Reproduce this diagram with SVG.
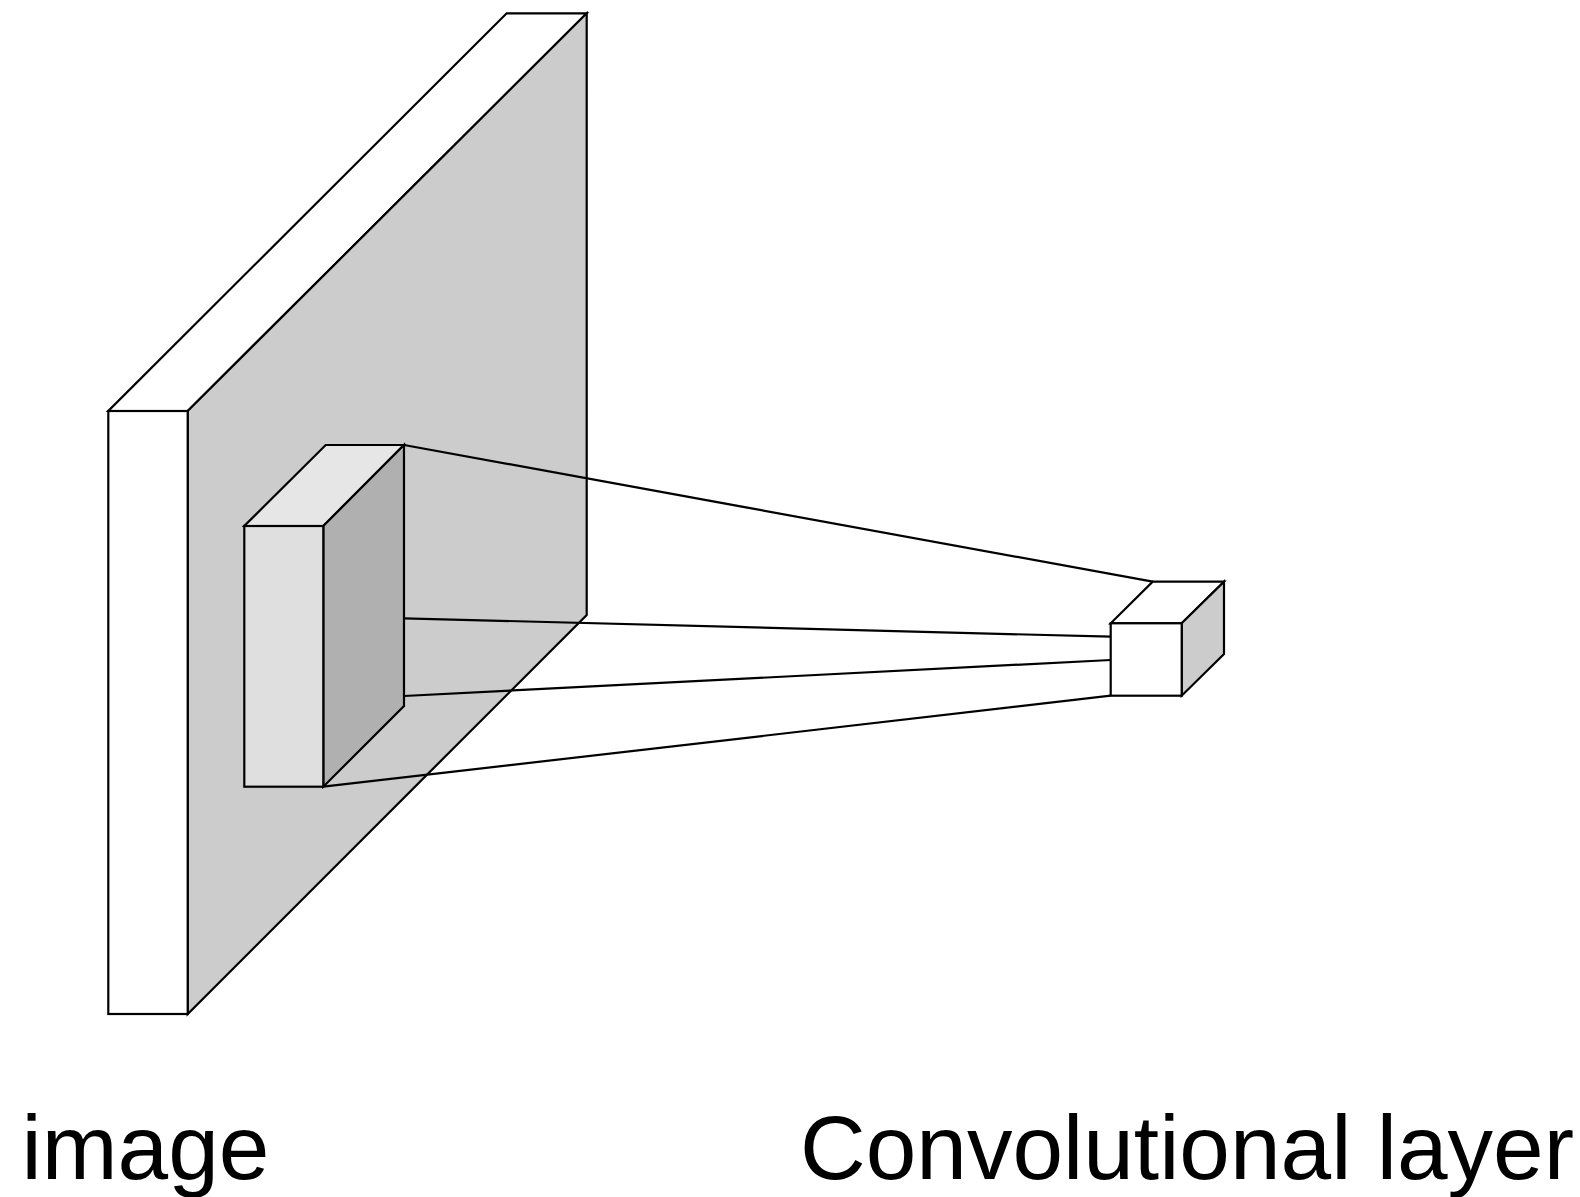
<svg xmlns="http://www.w3.org/2000/svg" width="1580" height="1197" viewBox="0 0 1580 1197">
<style>
.e{stroke:#000;stroke-width:2.2;stroke-linejoin:miter}
.c{stroke:#000;stroke-width:2.2;fill:none}
.t{font-family:"Liberation Sans",Arial,sans-serif;font-size:91px;fill:#000}
</style>
<rect width="1580" height="1197" fill="#fff"/>
<g id="image-slab">
<polygon class="e" fill="#ffffff" points="108.3,411 187.7,411 586.7,13.3 506.7,13.3"/>
<polygon class="e" fill="#cccccc" points="187.7,411 586.7,13.3 586.7,615 187.7,1014"/>
<rect class="e" fill="#ffffff" x="108.3" y="411" width="79.4" height="603"/>
</g>
<g id="kernel">
<polygon class="e" fill="#e6e6e6" points="244.3,526 323.3,526 404,445 325.7,445"/>
<polygon class="e" fill="#b0b0b0" points="323.3,526 404,445 404,706 323.3,786.7"/>
<rect class="e" fill="#dfdfdf" x="244.3" y="526" width="79" height="260.7"/>
</g>
<g id="connectors">
<line class="c" x1="404" y1="445" x2="1152.7" y2="581.7"/>
<line class="c" x1="404" y1="618.3" x2="1110.7" y2="636.7"/>
<line class="c" x1="404" y1="696" x2="1110.7" y2="660"/>
<line class="c" x1="323.3" y1="786.7" x2="1110.7" y2="695.7"/>
</g>
<g id="conv-unit">
<polygon class="e" fill="#ffffff" points="1110.7,623.3 1181.7,623.3 1224,581.7 1152.7,581.7"/>
<polygon class="e" fill="#cccccc" points="1181.7,623.3 1224,581.7 1224,654 1181.7,695.7"/>
<rect class="e" fill="#ffffff" x="1110.7" y="623.3" width="71" height="72.4"/>
</g>
<g id="labels">
<text class="t" x="21.5" y="1179">image</text>
<text class="t" x="800" y="1179">Convolutional layer</text>
</g>
</svg>
